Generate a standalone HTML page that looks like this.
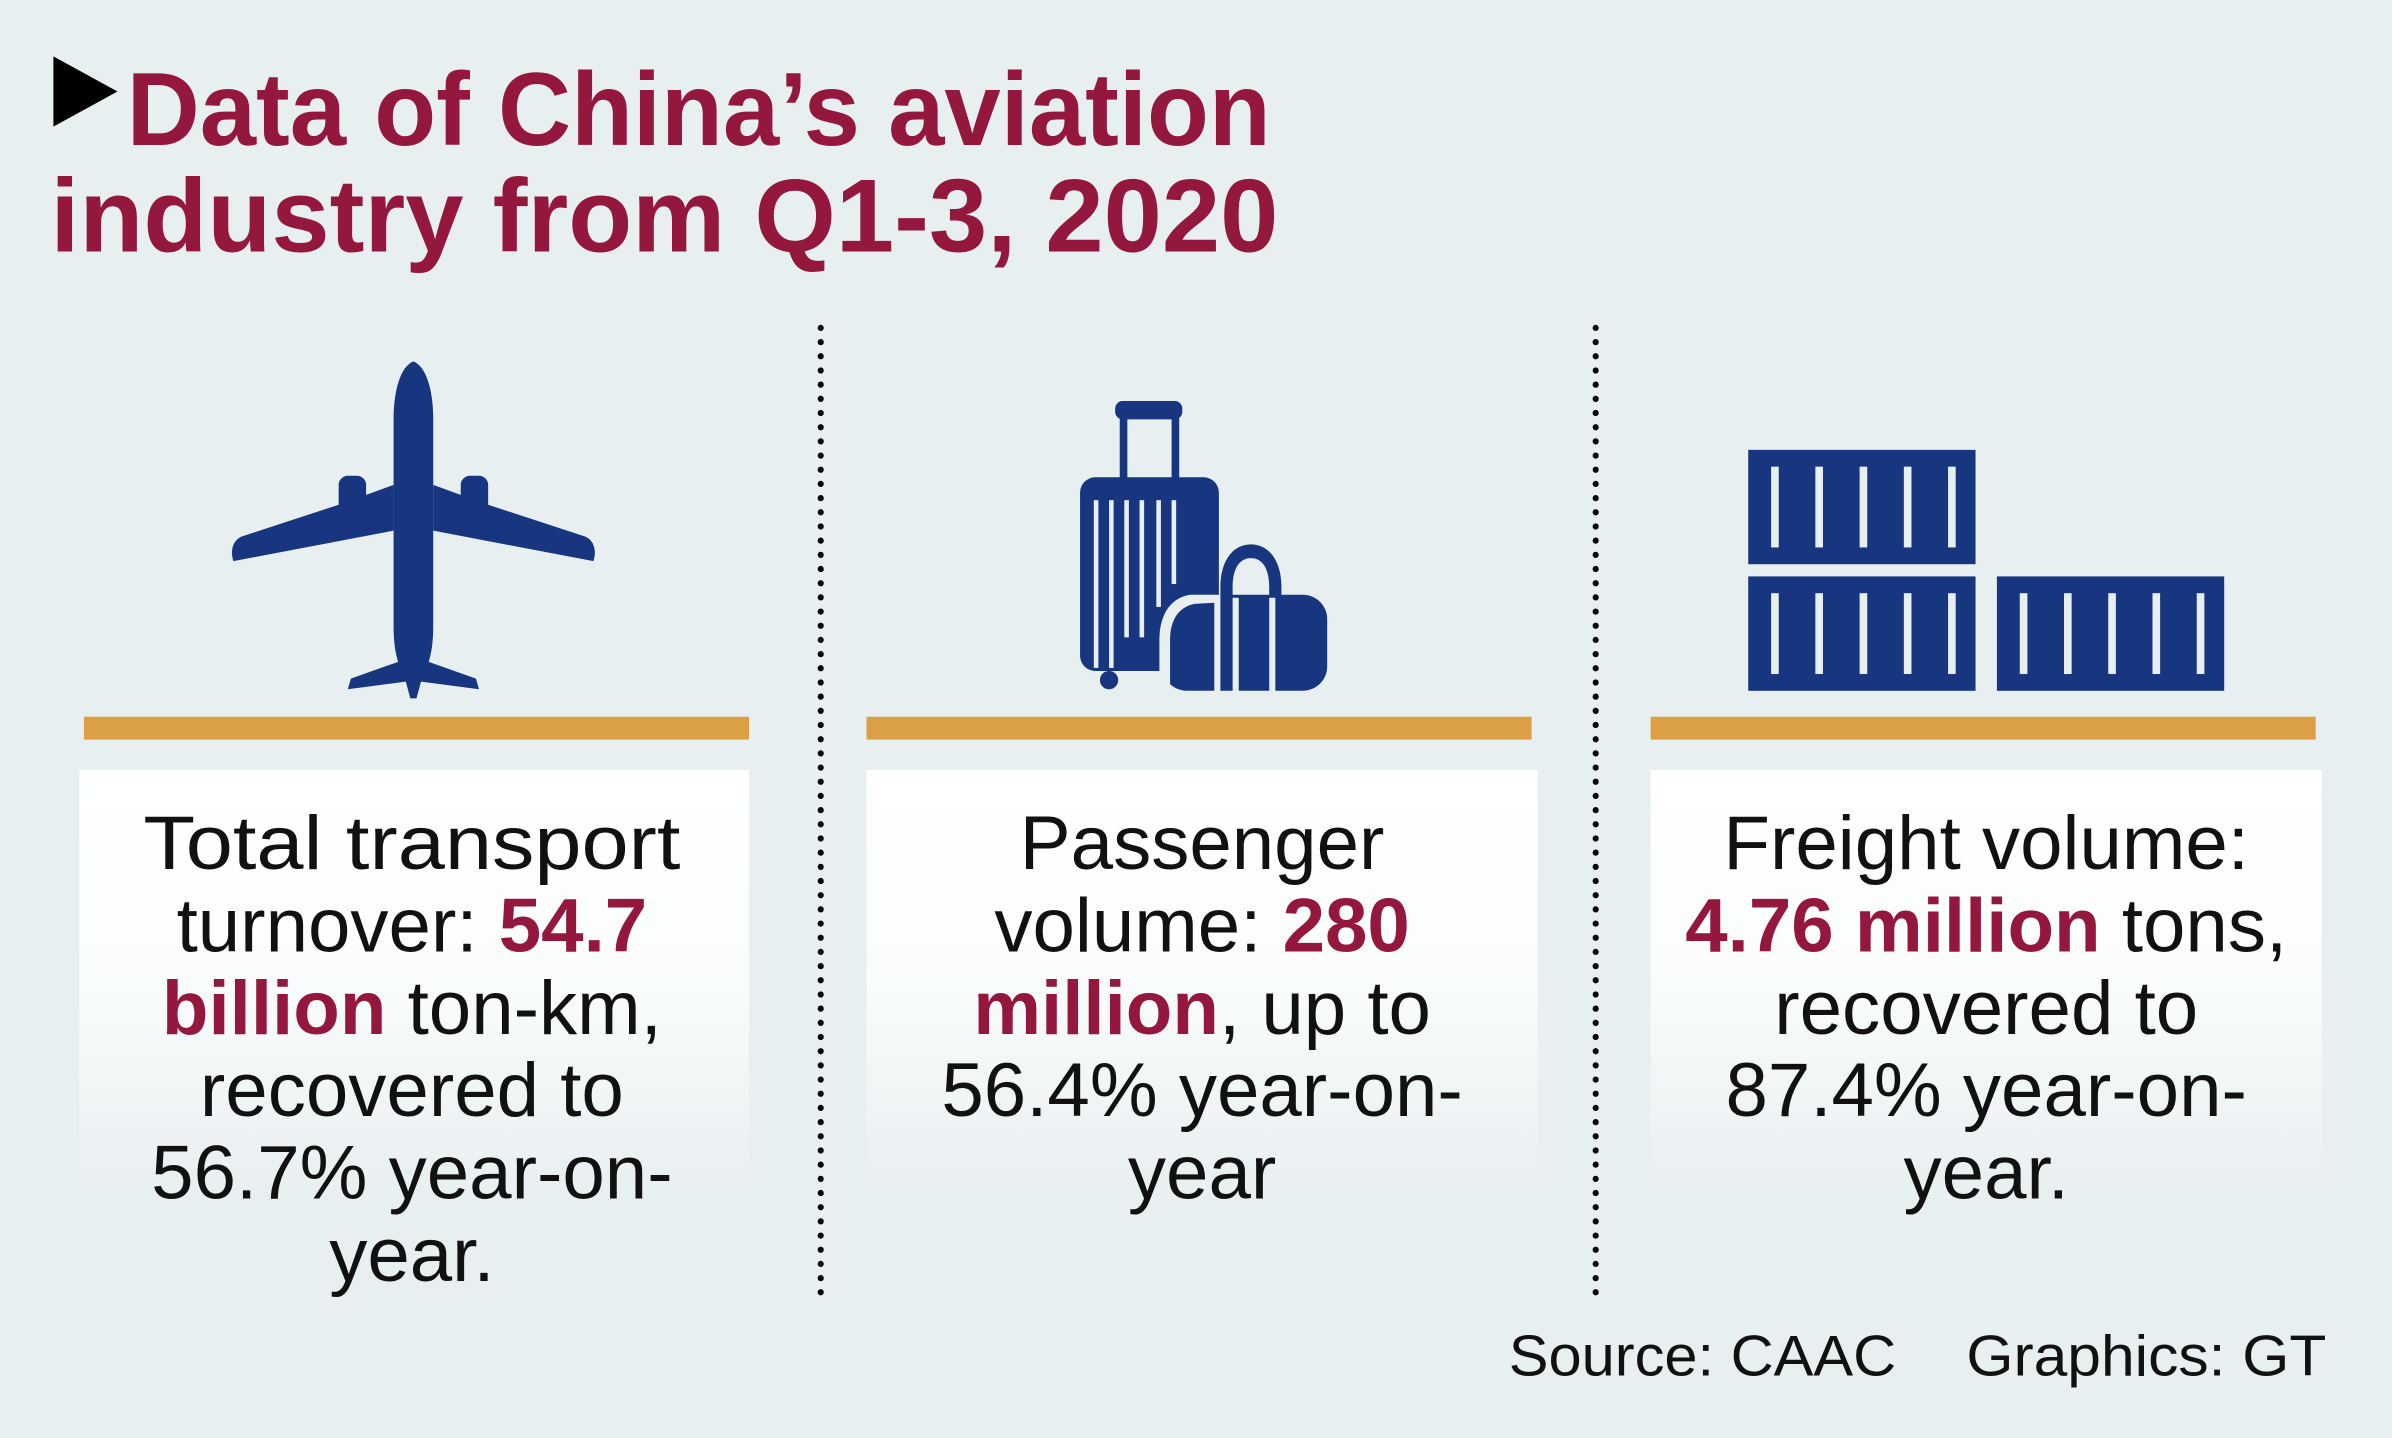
<!DOCTYPE html>
<html><head><meta charset="utf-8"><style>
html,body{margin:0;padding:0;background:#e8eff1;}
svg{display:block;}
</style></head><body>
<svg width="2392" height="1438" viewBox="0 0 1568 943" xmlns="http://www.w3.org/2000/svg" preserveAspectRatio="none">
<defs>
<linearGradient id="g" x1="0" y1="0" x2="0" y2="1">
<stop offset="0" stop-color="#ffffff"/><stop offset="0.45" stop-color="#fbfdfd"/><stop offset="1" stop-color="#e8eff1"/>
</linearGradient>
</defs>
<rect width="1568" height="943" fill="#e8eff1"/>
<polygon points="35,37 77,60 35,83" fill="#000"/>
<g font-family="Liberation Sans, sans-serif" font-weight="bold" fill="#94173e">
<text x="83" y="95" font-size="68" textLength="750" lengthAdjust="spacingAndGlyphs">Data of China’s aviation</text>
<text x="33" y="165" font-size="68" textLength="805" lengthAdjust="spacingAndGlyphs">industry from Q1-3, 2020</text>
</g>
<line x1="538" y1="215" x2="538" y2="852" stroke="#000" stroke-width="4" stroke-linecap="round" stroke-dasharray="0.1 9.2"/>
<line x1="1046" y1="215" x2="1046" y2="852" stroke="#000" stroke-width="4" stroke-linecap="round" stroke-dasharray="0.1 9.2"/>
<rect x="55" y="470" width="436" height="15" fill="#dca044"/>
<rect x="568" y="470" width="436" height="15" fill="#dca044"/>
<rect x="1082" y="470" width="436" height="15" fill="#dca044"/>
<rect x="52" y="505" width="439" height="280" fill="url(#g)"/>
<rect x="568" y="505" width="440" height="280" fill="url(#g)"/>
<rect x="1082" y="505" width="440" height="280" fill="url(#g)"/>
<g fill="#183580">
<path d="M271,237 C263,240 258,255 258,275 L258,410 C258,420 259,428 261,434 L230,445 L228,452 L266,447 L269,458 L273,458 L276,447 L314,452 L312,445 L281,434 C283,428 284,420 284,410 L284,275 C284,255 279,240 271,237 Z"/>
<path d="M258,318 L225,330 L158,352 C152,355 151,362 153,368 L258,348 Z"/>
<path d="M284,318 L317,330 L384,352 C390,355 391,362 389,368 L284,348 Z"/>
<rect x="222" y="312" width="18" height="36" rx="6"/>
<rect x="302" y="312" width="18" height="36" rx="6"/>
</g>
<g fill="#183580">
<rect x="731" y="263" width="44" height="12" rx="5"/>
<rect x="734" y="272" width="5" height="45"/>
<rect x="768" y="272" width="5" height="45"/>
<rect x="708" y="313" width="91" height="127" rx="10"/>
<circle cx="727" cy="446" r="6"/>
<rect x="762" y="390" width="108" height="63" rx="16"/>
<path d="M800,395 L800,385 C800,368 808,357 820,357 C832,357 840,368 840,385 L840,452 L832,452 L832,385 C832,372 827,366 820,366 C813,366 808,372 808,385 L808,395 Z"/>
</g>
<g fill="#e8eff1">
<rect x="717" y="328" width="3" height="110"/>
<rect x="727" y="328" width="3" height="110"/>
<rect x="737" y="328" width="3" height="90"/>
<rect x="747" y="328" width="3" height="90"/>
<rect x="758" y="328" width="3" height="70"/>
<rect x="768" y="328" width="3" height="55"/>
<path d="M760,455 L760,420 C760,402 768,392 780,390 L800,390 L800,395 L783,396 C773,398 767,406 767,420 L767,455 Z"/>
<rect x="796" y="394" width="4" height="60"/>
<rect x="808" y="392" width="4" height="62"/>
<rect x="832" y="392" width="4" height="62"/>
</g>
<g fill="#183580">
<rect x="1146" y="295" width="149" height="75"/>
<rect x="1146" y="378" width="149" height="75"/>
<rect x="1309" y="378" width="149" height="75"/>
</g>
<g fill="#e8eff1">
<rect x="1161" y="306" width="5" height="53"/><rect x="1190" y="306" width="5" height="53"/><rect x="1219" y="306" width="5" height="53"/><rect x="1248" y="306" width="5" height="53"/><rect x="1277" y="306" width="5" height="53"/>
<rect x="1161" y="389" width="5" height="53"/><rect x="1190" y="389" width="5" height="53"/><rect x="1219" y="389" width="5" height="53"/><rect x="1248" y="389" width="5" height="53"/><rect x="1277" y="389" width="5" height="53"/>
<rect x="1324" y="389" width="5" height="53"/><rect x="1353" y="389" width="5" height="53"/><rect x="1382" y="389" width="5" height="53"/><rect x="1411" y="389" width="5" height="53"/><rect x="1440" y="389" width="5" height="53"/>
</g>
<g font-family="Liberation Sans, sans-serif" font-size="50" fill="#111" text-anchor="middle">
<text x="270" y="570" textLength="352" lengthAdjust="spacingAndGlyphs">Total transport</text>
<text x="270" y="624">turnover: <tspan font-weight="bold" fill="#94173e">54.7</tspan></text>
<text x="270" y="678"><tspan font-weight="bold" fill="#94173e">billion</tspan> ton-km,</text>
<text x="270" y="732">recovered to</text>
<text x="270" y="786">56.7% year-on-</text>
<text x="270" y="840">year.</text>
<text x="788" y="570">Passenger</text>
<text x="788" y="624">volume: <tspan font-weight="bold" fill="#94173e">280</tspan></text>
<text x="788" y="678"><tspan font-weight="bold" fill="#94173e">million</tspan>, up to</text>
<text x="788" y="732">56.4% year-on-</text>
<text x="788" y="786">year</text>
<text x="1302" y="570">Freight volume:</text>
<text x="1302" y="624"><tspan font-weight="bold" fill="#94173e">4.76 million</tspan> tons,</text>
<text x="1302" y="678">recovered to</text>
<text x="1302" y="732">87.4% year-on-</text>
<text x="1302" y="786">year.</text>
</g>
<g font-family="Liberation Sans, sans-serif" font-size="38" fill="#111">
<text x="989" y="902" textLength="254" lengthAdjust="spacingAndGlyphs">Source: CAAC</text>
<text x="1289" y="902" textLength="236" lengthAdjust="spacingAndGlyphs">Graphics: GT</text>
</g>
</svg>
</body></html>
